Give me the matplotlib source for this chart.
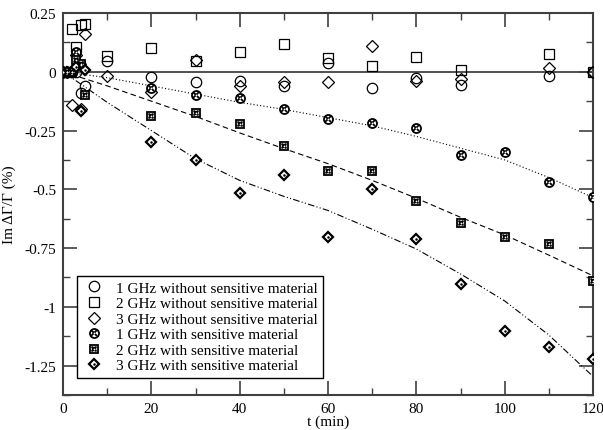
import matplotlib
matplotlib.use("Agg")
import matplotlib.pyplot as plt
from matplotlib.legend_handler import HandlerTuple
from matplotlib.ticker import MultipleLocator, FuncFormatter

# ---------------- data ----------------
t_1g_wo = [0, 1, 2, 3, 4, 5, 10, 20, 30, 40, 50, 60, 70, 80, 90, 110, 120]
v_1g_wo = [0, 0, 0, 0, -0.09, -0.06, 0.044, -0.024, -0.042, -0.04, -0.06,
           0.036, -0.07, -0.028, -0.056, -0.02, 0]

t_2g_wo = [0, 1, 2, 3, 4, 5, 10, 20, 30, 40, 50, 60, 70, 80, 90, 110, 120]
v_2g_wo = [0, 0, 0.18, 0.105, 0.2, 0.205, 0.065, 0.1, 0.044, 0.086, 0.117,
           0.058, 0.026, 0.062, 0.008, 0.075, 0]

t_3g_wo = [0, 1, 2, 3, 4, 5, 10, 20, 30, 40, 50, 60, 70, 80, 90, 110, 120]
v_3g_wo = [0, 0, -0.14, 0.07, -0.16, 0.16, -0.02, -0.085, 0.05, -0.06, -0.042,
           -0.042, 0.108, -0.04, -0.032, 0.018, 0]

t_1g_w = [0, 1, 2, 3, 4, 20, 30, 40, 50, 60, 70, 80, 90, 100, 110, 120]
v_1g_w = [0, 0, 0, 0.085, 0.03, -0.07, -0.10, -0.113, -0.159, -0.203, -0.216,
          -0.239, -0.355, -0.341, -0.469, -0.533]

t_2g_w = [0, 1, 2, 3, 4, 5, 20, 30, 40, 50, 60, 70, 80, 90, 100, 110, 120]
v_2g_w = [0, 0, 0, 0.05, 0.035, -0.1, -0.19, -0.177, -0.224, -0.317, -0.424,
          -0.424, -0.55, -0.645, -0.704, -0.733, -0.89]

t_3g_w = [0, 1, 2, 3, 4, 5, 20, 30, 40, 50, 60, 70, 80, 90, 100, 110, 120]
v_3g_w = [0, 0, 0, 0.02, -0.165, 0.008, -0.30, -0.377, -0.515, -0.437, -0.704,
          -0.50, -0.711, -0.904, -1.103, -1.17, -1.221]

# fitted trend curves
t_fit = [0, 10, 20, 30, 40, 50, 60, 70, 80, 90, 100, 110, 120]
fit_1g = [0.0, -0.025, -0.06, -0.095, -0.13, -0.16, -0.195, -0.23, -0.275,
          -0.325, -0.375, -0.45, -0.535]
fit_2g = [0.0, -0.06, -0.125, -0.19, -0.26, -0.327, -0.391, -0.462, -0.538,
          -0.619, -0.694, -0.78, -0.868]
fit_3g = [0.0, -0.13, -0.25, -0.37, -0.462, -0.53, -0.59, -0.67, -0.754,
          -0.86, -0.975, -1.12, -1.296]

labels = ["1 GHz without sensitive material",
          "2 GHz without sensitive material",
          "3 GHz without sensitive material",
          "1 GHz with sensitive material",
          "2 GHz with sensitive material",
          "3 GHz with sensitive material"]

# ---------------- figure ----------------
plt.rcParams['font.family'] = ['Liberation Serif', 'DejaVu Serif']
fig = plt.figure(figsize=(6.03, 4.31), dpi=100)
ax = fig.add_axes([0.1045, 0.0812, 0.879, 0.8863])

frame_col = '#404040'
ax.axhline(0, color='#505050', lw=1.4, zorder=1)

ax.plot(t_fit, fit_1g, color='black', lw=0.8, ls=(0, (1, 2)), zorder=2)
ax.plot(t_fit, fit_2g, color='black', lw=0.8, ls=(0, (5, 3)), zorder=2)
ax.plot(t_fit, fit_3g, color='black', lw=0.8, ls=(0, (6, 2, 1, 2, 1, 2)), zorder=2)

common = dict(ls='none', mec='black', zorder=3)
h1 = ax.plot(t_1g_wo, v_1g_wo, marker='o', ms=7.5, mfc='none', mew=0.9, **common)[0]
h2 = ax.plot(t_2g_wo, v_2g_wo, marker='s', ms=7, mfc='none', mew=0.9, **common)[0]
h3 = ax.plot(t_3g_wo, v_3g_wo, marker='D', ms=6.5, mfc='none', mew=0.9, **common)[0]

h4a = ax.plot(t_1g_w, v_1g_w, marker='o', ms=6.5, mfc='white', mew=1.3, **common)[0]
h4b = ax.plot(t_1g_w, v_1g_w, marker='x', ms=3.8, mew=1.3, ls='none', color='black', zorder=4)[0]
h4c = ax.plot(t_1g_w, v_1g_w, marker='o', ms=1.3, mfc='white', mec='white', mew=0, ls='none', zorder=5)[0]

h5a = ax.plot(t_2g_w, v_2g_w, marker='s', ms=6, mfc='white', mew=1.3, **common)[0]
h5b = ax.plot(t_2g_w, v_2g_w, marker='X', ms=4.8, mew=0, ls='none', color='black', zorder=4)[0]
h5c = ax.plot(t_2g_w, v_2g_w, marker='o', ms=1.3, mfc='white', mec='white', mew=0, ls='none', zorder=5)[0]

h6a = ax.plot(t_3g_w, v_3g_w, marker='D', ms=5.5, mfc='white', mew=1.6, **common)[0]
h6b = ax.plot(t_3g_w, v_3g_w, marker='o', ms=1.8, mfc='black', mec='black', mew=0, ls='none', zorder=4)[0]

ax.set_xlim(0, 120)
ax.set_ylim(-1.375, 0.25)

ax.xaxis.set_major_locator(MultipleLocator(20))
ax.xaxis.set_minor_locator(MultipleLocator(10))
ax.yaxis.set_major_locator(MultipleLocator(0.25))
ax.yaxis.set_minor_locator(MultipleLocator(0.125))

def fmt(v, pos):
    return '%g' % round(v, 3)
ax.yaxis.set_major_formatter(FuncFormatter(fmt))
ax.xaxis.set_major_formatter(FuncFormatter(fmt))

ax.tick_params(which='both', direction='in', top=True, right=True,
               color=frame_col, labelsize=11, pad=5)
ax.tick_params(axis='x', which='major', pad=5)
ax.tick_params(which='major', length=10, width=1.2)
ax.tick_params(which='minor', length=5, width=1.0)
for sp in ax.spines.values():
    sp.set_color(frame_col)
    sp.set_linewidth(1.5)

ax.set_xlabel('t (min)', fontsize=11, labelpad=-0.5)
ax.set_ylabel('Im ΔΓ/Γ (%)', fontsize=11, labelpad=6)

leg = ax.legend([h1, h2, h3, (h4a, h4b, h4c), (h5a, h5b, h5c), (h6a, h6b)], labels,
                handler_map={tuple: HandlerTuple(ndivide=1, pad=0)},
                loc='lower left', bbox_to_anchor=(0.026, 0.045),
                fontsize=11, frameon=True, fancybox=False,
                edgecolor='black', framealpha=1, handlelength=1.6,
                handletextpad=0.6, labelspacing=0.12, borderpad=0.35,
                borderaxespad=0)
leg.get_frame().set_linewidth(1.0)

fig.savefig('out.png', dpi=100)
